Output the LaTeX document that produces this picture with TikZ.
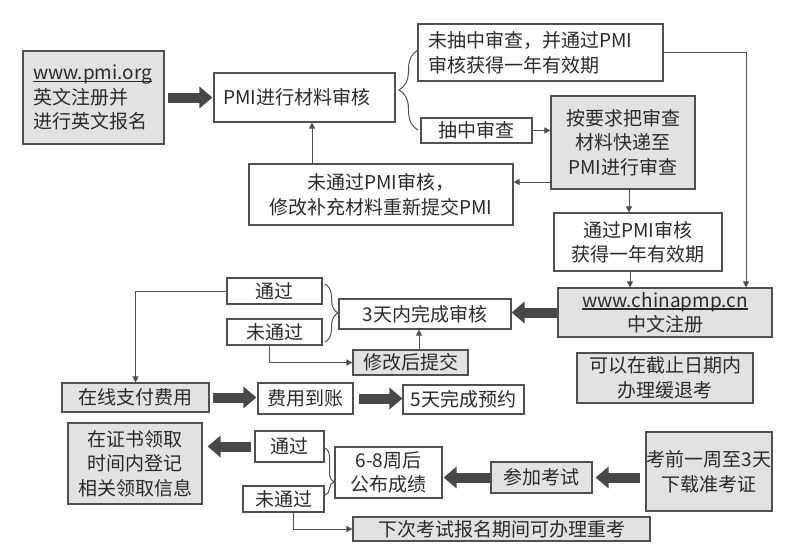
\documentclass[tikz,border=0pt]{standalone}
\usepackage{fontspec}
\setmainfont{Noto Sans CJK SC}
\usetikzlibrary{arrows.meta,decorations.pathreplacing,calc}
\definecolor{boxgray}{HTML}{E2E2E2}
\definecolor{edgec}{HTML}{505050}
\definecolor{fatc}{HTML}{484848}
\definecolor{txtc}{HTML}{2A2A2A}
\newcommand\myul[1]{\setbox0\hbox{#1}\rlap{\rule[-2.5pt]{\wd0}{1.1pt}}\box0}
\begin{document}
\begin{tikzpicture}[x=1pt,y=-1pt,
 box/.style={draw=edgec, line width=1.1pt, fill=white, inner sep=0pt, align=center, text=txtc, font=\fontsize{19}{24.5}\selectfont},
 gbox/.style={box, fill=boxgray},
 sz/.style 2 args={minimum width=#1pt, minimum height=#2pt},
 conn/.style={draw=edgec, line width=0.9pt, -{Triangle[length=6pt,width=6pt]}},
 fat/.style={draw=fatc, line width=10pt, -{Triangle[length=13pt,width=21pt]}},
 brc/.style={draw=edgec, line width=1pt, decorate, decoration={brace, amplitude=#1}},
]
\useasboundingbox (0,0) rectangle (800,555);

\node[gbox, sz={141}{93}, align=left, text width=121pt] (pmi) at (93.5,97.5) {\myul{www.pmi.org}\\英文注册并\\进行英文报名};
\node[box, sz={181}{49}, align=left, text width=163pt] (review) at (304.5,97.5) {PMI进行材料审核};
\node[box, sz={245}{57}, align=left, text width=225pt] (notsel) at (540.5,52.5) {未抽中审查，并通过PMI\\审核获得一年有效期};
\node[box, sz={111}{25}] (sel) at (476.5,130.5) {抽中审查};
\node[gbox, sz={144}{93}] (mail) at (623,142.5) {按要求把审查\\材料快递至\\PMI进行审查};
\node[box, sz={264}{61}] (fail1) at (381,194.5) {未通过PMI审核，\\修改补充材料重新提交PMI};
\node[box, sz={168}{58}] (pass1) at (638,242) {通过PMI审核\\获得一年有效期};
\node[gbox, sz={214}{49}] (cn) at (665,312.5) {\myul{www.chinapmp.cn}\\中文注册};
\node[gbox, sz={176}{50}] (defer) at (665,378) {可以在截止日期内\\办理缓退考};
\node[box, sz={172}{30}] (three) at (425,314) {3天内完成审核};
\node[box, sz={95}{26}] (pass2) at (274.5,291) {通过};
\node[box, sz={95}{26}] (fail2) at (274.5,332) {未通过};
\node[gbox, sz={115}{25}] (resub) at (410.5,362.5) {修改后提交};
\node[gbox, sz={147}{29}] (pay) at (135.5,397.5) {在线支付费用};
\node[box, sz={95}{31}] (paid) at (305.5,398.5) {费用到账};
\node[box, sz={121}{29}] (book) at (463.5,399.5) {5天完成预约};
\node[gbox, sz={126}{79}] (ticket) at (709,471.5) {考前一周至3天\\下载准考证};
\node[gbox, sz={101}{31}] (exam) at (541.5,477.5) {参加考试};
\node[box, sz={107}{51}] (result) at (388.5,472.5) {6-8周后\\公布成绩};
\node[box, sz={69}{31}] (pass3) at (289.5,446.5) {通过};
\node[box, sz={81}{26}] (fail3) at (283.5,499) {未通过};
\node[gbox, sz={134}{81}] (cert) at (135,463.5) {在证书领取\\时间内登记\\相关领取信息};
\node[gbox, sz={297}{24}] (retake) at (501.5,529) {下次考试报名期间可办理重考};

% fat arrows
\draw[fat, shorten <=3pt, shorten >=1pt] (pmi.east) -- (pmi.east -| review.west);
\draw[fat, shorten >=0pt] (cn.west) -- (cn.west -| three.east);
\draw[fat, shorten <=3pt, shorten >=1pt] (pay.east) -- (pay.east -| paid.west);
\draw[fat, shorten <=5pt, shorten >=0pt] (paid.east) -- (paid.east -| book.west);
\draw[fat, shorten <=5pt, shorten >=3pt] (exam.east -| ticket.west) -- (exam.east);
\draw[fat, shorten >=1pt] (exam.west) -- (exam.west -| result.east);
\draw[fat, shorten <=3pt, shorten >=5pt] (pass3.west) -- (pass3.west -| cert.east);

% thin connectors
\draw[conn] ([xshift=-69pt]fail1.north) -- ([xshift=-69pt]fail1.north |- review.south);
\draw[conn] (notsel.east) -| ([xshift=81pt]cn.north);
\draw[conn] (sel.east) -- (sel.east -| mail.west);
\draw[conn] ([yshift=-39.5pt]mail.west) -- ([yshift=-39.5pt]mail.west -| fail1.east);
\draw[conn] ([xshift=6pt]mail.south) -- ([xshift=6pt]mail.south |- pass1.north);
\draw[conn] ([xshift=-8pt]pass1.south) -- ([xshift=-8pt]pass1.south |- cn.north);
\draw[conn] ([xshift=8.5pt]resub.north) -- ([xshift=8.5pt]resub.north |- three.south);
\draw[conn] (pass2.west) -| (pay.north);
\draw[conn] ([xshift=-5.5pt]fail2.south) |- (resub.west);
\draw[conn] ([xshift=9.5pt]fail3.south) |- (retake.west);

% braces
\draw[brc=19pt] (418,130) -- (418,50);
\draw[brc=13pt] (325,284) -- (325,342);
\draw[brc=9pt, decoration={aspect=0.72}] (325,448) -- (325,495);
\end{tikzpicture}
\end{document}
